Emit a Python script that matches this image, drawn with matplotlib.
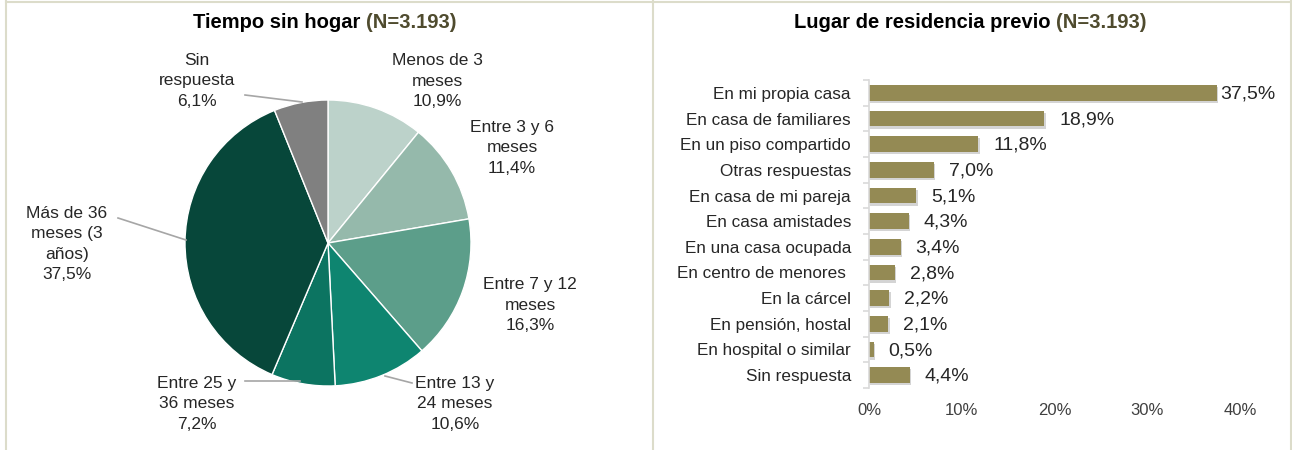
import matplotlib.pyplot as plt
import numpy as np

plt.rcParams['font.family'] = ['Liberation Sans', 'DejaVu Sans']

# --- data: pie (Tiempo sin hogar) ---
pie_labels = ['Menos de 3\nmeses', 'Entre 3 y 6\nmeses', 'Entre 7 y 12\nmeses',
              'Entre 13 y\n24 meses', 'Entre 25 y\n36 meses', 'Más de 36\nmeses (3\naños)',
              'Sin\nrespuesta']
pie_values = [10.9, 11.4, 16.3, 10.6, 7.2, 37.5, 6.1]
pie_colors = ['#bcd2ca', '#95b9ab', '#5c9e8a', '#0e8570', '#0c7461', '#07473a', '#808080']

# --- data: bars (Lugar de residencia previo) ---
bar_labels = ['En mi propia casa', 'En casa de familiares', 'En un piso compartido',
              'Otras respuestas', 'En casa de mi pareja', 'En casa amistades',
              'En una casa ocupada', 'En centro de menores ', 'En la cárcel',
              'En pensión, hostal', 'En hospital o similar', 'Sin respuesta']
bar_values = [37.5, 18.9, 11.8, 7.0, 5.1, 4.3, 3.4, 2.8, 2.2, 2.1, 0.5, 4.4]
x_ticks = [0, 10, 20, 30, 40]

W, H = 1292, 450
fig = plt.figure(figsize=(W / 100, H / 100), dpi=100)


def fmt(v):
    return f'{v:.1f}'.replace('.', ',') + '%'


def py(y):
    # pixel row (from top) -> data y (from bottom)
    return H - y


# --- pie ---
pax = fig.add_axes([0, 0, 650 / W, 1])
cx, cy, R = 328, 243, 143
wedges, _ = pax.pie(pie_values, colors=pie_colors, startangle=90, counterclock=False,
                    center=(cx, py(cy)), radius=R,
                    wedgeprops=dict(edgecolor='white', linewidth=1))
pax.set_xlim(0, 650)
pax.set_ylim(0, H)
pax.set_aspect('auto')
pax.axis('off')

label_pos = [(437, 81), (512, 148), (530, 305), (455, 404), (197, 404), (67, 244), (197, 81)]
leaders = {3: [(412, 383), (385, 376)], 4: [(245, 381), (300, 381)],
           5: [(118, 218), (186, 240)], 6: [(245, 95), (302, 102)]}
for i, (lab, v) in enumerate(zip(pie_labels, pie_values)):
    x, y = label_pos[i]
    pax.text(x, py(y), lab + '\n' + fmt(v), ha='center', va='center', fontsize=12.5,
             linespacing=1.45, color='#262626')
    if i in leaders:
        (x0, y0), (x1, y1) = leaders[i]
        pax.plot([x0, x1], [py(y0), py(y1)], color='#a6a6a6', lw=1.2)

# --- bars ---
bax = fig.add_axes([869 / W, (H - 388) / H, 371 / W, 308 / H])
bax.patch.set_visible(False)
ypos = np.arange(len(bar_values))
bax.barh(ypos + 0.08, bar_values, height=0.62, left=0.15, color='#d4d4d4', zorder=1)
bax.barh(ypos, bar_values, height=0.62, color='#948a54', zorder=2)
for y, v in zip(ypos, bar_values):
    bax.text(min(v + 1.6, 37.9), y + 0.05, fmt(v), va='center', ha='left',
             fontsize=14, color='#262626')
bax.set_xlim(0, 40)
bax.set_ylim(len(bar_values) - 0.5, -0.5)
bax.set_yticks(ypos)
bax.set_yticklabels(bar_labels, fontsize=12.3, color='#262626')
bax.set_yticks(np.arange(len(bar_values) + 1) - 0.5, minor=True)
bax.tick_params(axis='y', which='major', length=0, pad=13)
bax.tick_params(axis='y', which='minor', length=4, color='#d9d9d9', width=1.2)
bax.set_xticks(x_ticks)
bax.set_xticklabels([f'{t}%' for t in x_ticks], fontsize=12, color='#404040')
bax.tick_params(axis='x', length=0, pad=11)
for s in ('top', 'right', 'bottom'):
    bax.spines[s].set_visible(False)
bax.spines['left'].set_color('#d9d9d9')
bax.spines['left'].set_linewidth(1.2)

# --- frames and titles (pixel-space overlay) ---
bg = fig.add_axes([0, 0, 1, 1])
bg.patch.set_visible(False)
bg.set_xlim(0, W)
bg.set_ylim(H, 0)
bg.axis('off')
frame_c = '#dcdcca'
bg.plot([6, 1291], [1.5, 1.5], color=frame_c, lw=1.5)
for xx in (6, 653, 1291):
    bg.plot([xx, xx], [1, H], color=frame_c, lw=1.5)

title_c = '#4f4b2e'
fig.canvas.draw()
r = fig.canvas.get_renderer()
for tcx, t1 in ((325, 'Tiempo sin hogar '), (970, 'Lugar de residencia previo ')):
    a = bg.text(0, 22, t1, fontsize=14.5, fontweight='bold', color='black',
                ha='left', va='center')
    b = bg.text(0, 22, '(N=3.193)', fontsize=14.5, fontweight='bold', color=title_c,
                ha='left', va='center')
    wa = a.get_window_extent(r).width
    wb = b.get_window_extent(r).width
    x0 = tcx - (wa + wb) / 2
    a.set_x(x0)
    b.set_x(x0 + wa)

fig.savefig('out.png', dpi=100)
